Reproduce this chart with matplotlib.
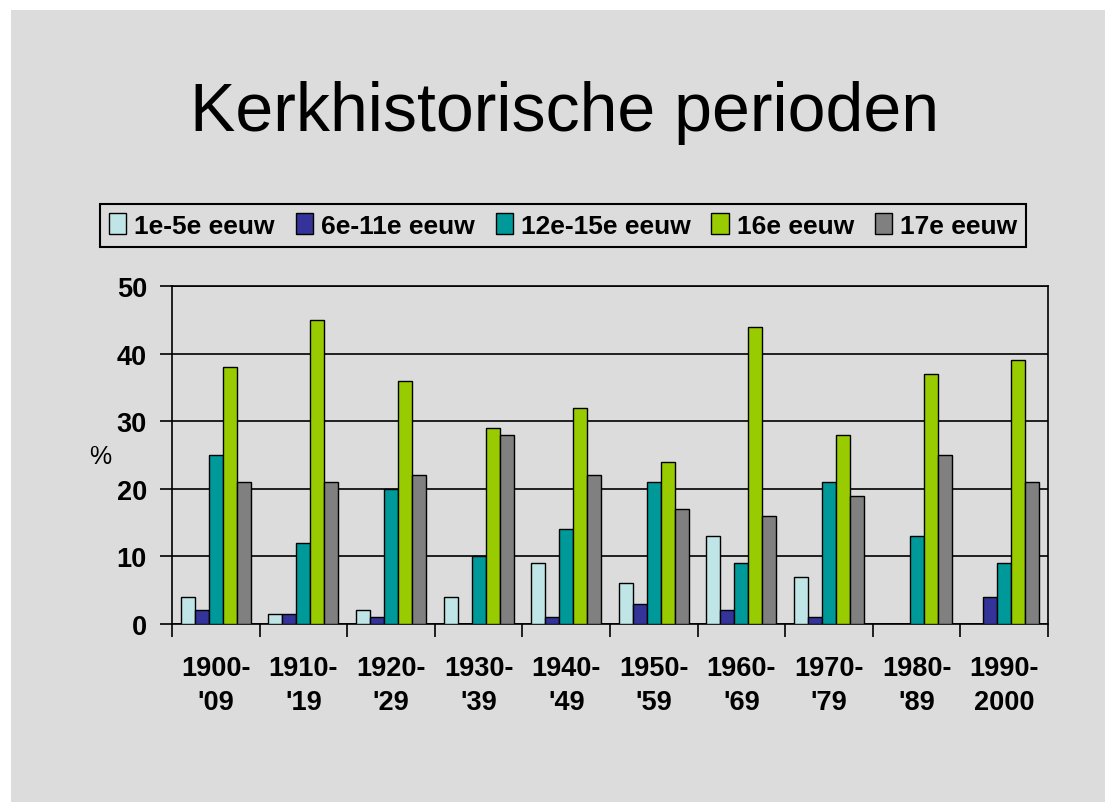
import matplotlib
matplotlib.use("Agg")
import matplotlib.pyplot as plt
import numpy as np
from matplotlib.patches import Rectangle

categories = ["1900-\n'09", "1910-\n'19", "1920-\n'29", "1930-\n'39", "1940-\n'49",
              "1950-\n'59", "1960-\n'69", "1970-\n'79", "1980-\n'89", "1990-\n2000"]
series_names = ["1e-5e eeuw", "6e-11e eeuw", "12e-15e eeuw", "16e eeuw", "17e eeuw"]
s1 = [4, 1.5, 2, 4, 9, 6, 13, 7, 0, 0]
s2 = [2, 1.5, 1, 0, 1, 3, 2, 1, 0, 4]
s3 = [25, 12, 20, 10, 14, 21, 9, 21, 13, 9]
s4 = [38, 45, 36, 29, 32, 24, 44, 28, 37, 39]
s5 = [21, 21, 22, 28, 22, 17, 16, 19, 25, 21]
colors = ["#BFE5E6", "#333399", "#009999", "#99CC00", "#808080"]
yticks = [0, 10, 20, 30, 40, 50]

plt.rcParams['font.family'] = ['Liberation Sans', 'DejaVu Sans']
bg = "#DCDCDC"
fig = plt.figure(figsize=(11.05, 8.03), dpi=100)
fig.patch.set_facecolor("white")
fig.patches.append(Rectangle((11/1105, 0), 1, 1 - 11/803, transform=fig.transFigure,
                             facecolor=bg, edgecolor="none", zorder=-10))

ax = fig.add_axes([172/1105, 1 - 625/803, (1048 - 172)/1105, (625 - 287)/803])
ax.set_facecolor(bg)

x = np.arange(len(categories))
w = 0.16
data = [s1, s2, s3, s4, s5]
handles = []
for i, (vals, c, name) in enumerate(zip(data, colors, series_names)):
    b = ax.bar(x + (i - 2) * w, vals, width=w, color=c, edgecolor="black",
               linewidth=1.0, label=name, zorder=3)
    handles.append(b)

ax.set_xlim(-0.5, len(categories) - 0.5)
ax.set_ylim(0, 50)
ax.set_yticks(yticks)
ax.set_yticklabels([str(t) for t in yticks], fontsize=19.5, fontweight="bold")
ax.yaxis.grid(True, color="black", linewidth=1.2, zorder=1)
ax.set_axisbelow(True)

ax.set_xticks(np.arange(len(categories) + 1) - 0.5)
ax.set_xticklabels([])
ax.set_xticks(x, minor=True)
ax.set_xticklabels(categories, minor=True, fontsize=19.5, fontweight="bold",
                   linespacing=1.4)
ax.tick_params(axis="x", which="minor", length=0, pad=22)
ax.tick_params(axis="x", which="major", length=9, width=1.2, direction="out")
ax.tick_params(axis="y", length=9, width=1.2, direction="out", pad=9)
for sp in ax.spines.values():
    sp.set_linewidth(1.2)
    sp.set_color("black")

fig.text(100/1105, 1 - 457/803, "%", fontsize=18, ha="center", va="center")
fig.text(565/1105, 1 - 131/803, "Kerkhistorische perioden", fontsize=49,
         ha="center", va="baseline")

leg = fig.legend(handles=handles, labels=series_names, loc="center",
                 bbox_to_anchor=(563/1105, 1 - 226.5/803), ncol=5,
                 prop={"weight": "bold", "size": 19}, frameon=True, fancybox=False,
                 edgecolor="black", facecolor=bg, handlelength=0.65, handleheight=0.8,
                 handletextpad=0.3, columnspacing=0.8, borderpad=0.35,
                 borderaxespad=0)
leg.get_frame().set_linewidth(1.5)
leg.get_frame().set_alpha(None)

fig.savefig("out.png", dpi=100, facecolor=fig.get_facecolor())
